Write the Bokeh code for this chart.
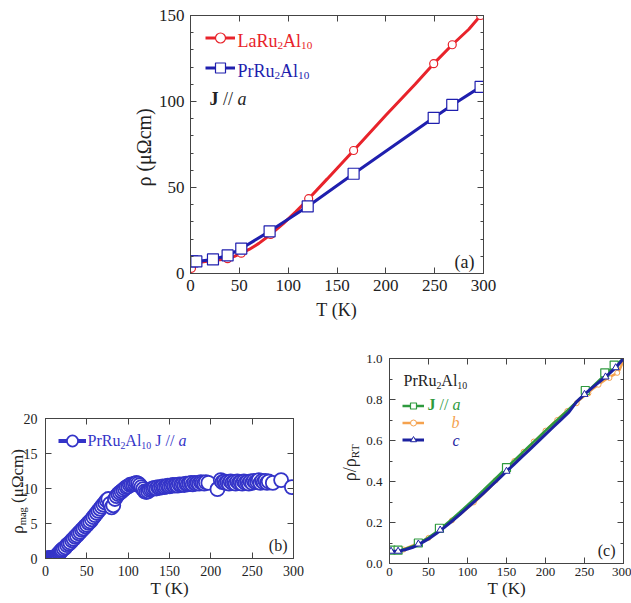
from math import pi
from bokeh.plotting import figure
from bokeh.models import (Range1d, LinearAxis, SingleIntervalTicker, Legend,
                          LegendItem, PrintfTickFormatter, CustomJSTickFormatter, Spacer)
from bokeh.core.properties import value
from bokeh.layouts import column, row
from bokeh.embed import file_html
from bokeh.resources import INLINE

FONT = "Liberation Serif"

# ---------------- panel (a) data ----------------
la_line_T = [0, 2, 5, 10, 15, 20, 25, 30, 38, 45, 52, 60, 70, 82, 95, 108, 121, 140, 167, 200, 230, 249, 268, 285, 297]
la_line_rho = [1, 3, 5.5, 6.5, 7, 7.3, 7.7, 8, 8.6, 10, 11.8, 14, 17.5, 22.7, 29, 36, 43.5, 55, 71.5, 92, 110, 122, 133, 142, 150]
la_mark_T = [1, 38, 52, 82, 121, 167, 249, 268, 297]
la_mark_rho = [3, 8.6, 11.8, 22.7, 43.5, 71.5, 122, 133, 150]
pr_T = [2, 6, 23, 38, 52, 81, 120, 167, 249, 268, 297]
pr_rho = [7, 7, 8.2, 10.5, 14.5, 24.5, 39, 58, 90.5, 98, 108.5]

# ---------------- panel (b) data ----------------
mag_T = [1, 2, 3, 4, 5, 6, 7, 8, 9, 10, 11, 12, 13, 14, 15, 16, 17, 18, 19, 20,
         22, 24, 26, 28, 30, 32, 34, 36, 38, 40, 42, 44, 46, 48, 50, 52, 54, 56, 58, 60,
         62, 64, 66, 68, 70, 72, 74, 76, 78, 80, 82, 84, 86, 88, 90, 92, 94, 96, 98, 100,
         102, 104, 106, 108, 110, 112, 114, 116, 118, 120, 122, 124, 126, 128, 130, 132, 134, 136, 138, 140,
         142, 144, 146, 148, 150, 152, 154, 156, 158, 160, 162, 164, 166, 168, 170, 172, 174, 176, 178, 180,
         182, 184, 186, 188, 190, 192, 194, 197, 208, 212, 214, 216, 218, 220, 222, 224, 226, 228, 230, 232,
         234, 236, 238, 240, 242, 244, 246, 248, 250, 252, 254, 256, 258, 260, 262, 264, 266, 268, 270, 275,
         285, 298]
mag_rho = [0, 0, 0, 0, 0, 0.05, 0.1, 0.05, 0, 0.1, 0.15, 0.2, 0.3, 0.45, 0.55, 0.7, 0.8, 0.95, 1.1, 1.25,
           1.4, 1.6, 1.9, 2.1, 2.3, 2.6, 2.8, 3.1, 3.3, 3.6, 3.8, 4.1, 4.3, 4.6, 4.8, 5.1, 5.3, 5.6, 5.9, 6.2,
           6.5, 6.8, 7.1, 7.4, 7.7, 8.0, 8.3, 8.5, 7.8, 7.3, 7.6, 8.5, 8.9, 9.2, 9.4, 9.6, 9.8, 10.0, 10.2, 10.3,
           10.5, 10.6, 10.6, 10.7, 10.8, 10.7, 10.5, 10.2, 9.9, 9.6, 9.5, 9.6, 9.8, 9.9, 10.0, 10.1, 10.0, 10.2, 10.1, 10.2,
           10.3, 10.2, 10.3, 10.4, 10.3, 10.4, 10.5, 10.4, 10.5, 10.4, 10.6, 10.5, 10.6, 10.5, 10.7, 10.6, 10.7, 10.8, 10.6, 10.8,
           10.7, 10.8, 10.7, 10.9, 10.8, 10.7, 10.9, 10.8, 9.9, 11.2, 10.9, 11.0, 10.8, 10.9, 10.7, 11.0, 10.8, 10.9, 10.7, 11.0,
           10.8, 10.9, 10.7, 11.0, 10.8, 10.9, 10.7, 11.0, 10.8, 11.1, 10.9, 11.0, 11.2, 10.8, 11.1, 10.9, 11.1, 10.8, 11.0, 10.8,
           11.2, 10.2]

# ---------------- panel (c) data ----------------
c_line_T = [1, 5, 10, 15, 20, 30, 40, 50, 60, 70, 80, 90, 100, 110, 120, 130, 140, 150, 160, 170,
            180, 190, 200, 210, 220, 230, 240, 250, 260, 270, 280, 290, 300]
a_line = [0.065, 0.065, 0.065, 0.067, 0.071, 0.084, 0.104, 0.127, 0.154, 0.184, 0.216, 0.250, 0.285, 0.320,
          0.356, 0.393, 0.430, 0.467, 0.503, 0.540, 0.576, 0.612, 0.648, 0.683, 0.718, 0.753, 0.789, 0.826,
          0.862, 0.898, 0.934, 0.967, 1.0]
c_line = [0.060, 0.060, 0.061, 0.063, 0.067, 0.079, 0.098, 0.120, 0.146, 0.175, 0.206, 0.238, 0.272, 0.306,
          0.341, 0.377, 0.413, 0.449, 0.485, 0.521, 0.557, 0.593, 0.630, 0.666, 0.702, 0.738, 0.790, 0.825,
          0.858, 0.889, 0.920, 0.955, 1.0]
b_line_T = [1, 5, 10, 15, 20, 30, 40, 50, 60, 70, 80, 90, 100, 110, 120, 130, 140, 150, 160, 170,
            180, 190, 200, 210, 220, 230, 240, 250, 260, 270, 280, 290, 295, 300]
b_line = [0.068, 0.068, 0.068, 0.068, 0.072, 0.088, 0.105, 0.125, 0.150, 0.178, 0.208, 0.238, 0.270, 0.302,
          0.338, 0.375, 0.414, 0.452, 0.492, 0.535, 0.572, 0.610, 0.648, 0.684, 0.720, 0.752, 0.786, 0.818,
          0.850, 0.878, 0.905, 0.925, 0.945, 0.99]
a_mark_T = [2, 11, 37, 64, 150, 251, 276, 288]
a_mark = [0.065, 0.065, 0.10, 0.172, 0.468, 0.844, 0.93, 0.968]
c_mark_T = [2, 11, 37, 65, 150, 250, 277, 290]
c_mark = [0.06, 0.06, 0.095, 0.163, 0.45, 0.825, 0.91, 0.955]
b_mark_T = [18, 50, 80, 108, 136, 160, 172, 185, 200, 215, 228, 240, 255, 268, 282, 292]
b_mark = [0.068, 0.125, 0.21, 0.298, 0.405, 0.50, 0.545, 0.595, 0.648, 0.70, 0.744, 0.782, 0.830, 0.872, 0.905, 0.93]

RED = "#e8232b"
BLUE_A = "#1f1fae"
BLUE_B = "#3434c8"
GREEN = "#2e9a3e"
ORANGE = "#f5a24e"
BLUE_C = "#1c22a0"
AXC = "#444444"
TXT = "#222222"

# ---------------- text helpers ----------------
W_REG = {' ': 250, '(': 333, ')': 333, '/': 278, '.': 250, 'A': 722, 'J': 389, 'K': 722, 'L': 611,
         'P': 556, 'R': 667, 'T': 611, 'a': 444, 'b': 500, 'c': 444, 'g': 500, 'l': 278, 'm': 778,
         'r': 333, 'u': 500, '\u03c1': 500, '\u03bc': 500, '\u03a9': 768}
W_BOLD = {'J': 500}
W_ITAL = {'a': 500, 'b': 500, 'c': 444}


def tw(s, size, style):
    tot = 0
    for ch in s:
        if style == 'bold' and ch in W_BOLD:
            w = W_BOLD[ch]
        elif style == 'italic' and ch in W_ITAL:
            w = W_ITAL[ch]
        else:
            w = W_REG.get(ch, 500)
        tot += w
    return tot * size / 1000.0


def rich(p, g, X, Y, parts, size, color, angle=0.0, align='left'):
    """Draw a run of text pieces (with subscripts); X, Y = page pixel position of the text's middle line."""
    FL, FB, fw, fh, x0, x1, y0, y1 = g
    widths = []
    for s, st, sub in parts:
        fs = size * 0.62 if sub else size
        widths.append(tw(s, fs, st))
    total = sum(widths)
    pos = {'left': 0.0, 'center': -total / 2.0, 'right': -total}[align]
    for (s, st, sub), w in zip(parts, widths):
        fs = size * 0.62 if sub else size
        shift = size * 0.3 if sub else 0.0
        lead = (len(s) - len(s.lstrip(' '))) * 250 * fs / 1000.0
        ppos = pos + lead
        if angle == 0:
            px, py = X + ppos, Y + shift
        else:
            px, py = X + shift, Y - ppos
        xd = x0 + (px - FL) * (x1 - x0) / fw
        yd = y0 + (FB - py) * (y1 - y0) / fh
        p.text(x=[xd], y=[yd], text=[s.strip(' ')], text_font=value(FONT), text_font_size=f"{fs:.1f}px",
               text_font_style=st, text_color=color, angle=angle, text_align="left",
               text_baseline="middle", level="overlay")
        pos += w


def make_fig(fw, fh, bl, br, bt, bb, xr, yr):
    p = figure(frame_width=fw, frame_height=fh, min_border_left=bl, min_border_right=br,
               min_border_top=bt, min_border_bottom=bb, x_range=Range1d(*xr), y_range=Range1d(*yr),
               x_axis_type=None, y_axis_type=None, output_backend="svg", toolbar_location=None)
    p.outline_line_color = None
    p.background_fill_color = "white"
    p.border_fill_color = "white"
    try:
        p.frame_align = False
    except Exception:
        pass
    return p


def add_axes(p, xint, xminor, yint, yminor, fs, xstand, ystand, yfmt=None):
    for loc in ("below", "above", "left", "right"):
        if loc in ("below", "above"):
            ax = LinearAxis(ticker=SingleIntervalTicker(interval=xint, num_minor_ticks=xminor))
        else:
            ax = LinearAxis(ticker=SingleIntervalTicker(interval=yint, num_minor_ticks=yminor))
            if yfmt:
                ax.formatter = PrintfTickFormatter(format=yfmt)
        ax.axis_line_color = AXC
        ax.major_tick_line_color = AXC
        ax.minor_tick_line_color = AXC
        ax.major_tick_in = 6
        ax.major_tick_out = 0
        ax.minor_tick_in = 3
        ax.minor_tick_out = 0
        ax.major_label_text_font = FONT
        ax.major_label_text_color = TXT
        ax.major_label_text_font_size = fs
        if loc in ("below", "left"):
            ax.major_label_standoff = xstand if loc == "below" else ystand
        else:
            ax.formatter = CustomJSTickFormatter(code="return ''")
            ax.major_label_standoff = 0
        p.add_layout(ax, loc)


def legend(items, loc, gw, gh, sp):
    return Legend(items=[LegendItem(label=" ", renderers=r) for r in items], location=loc,
                  glyph_width=gw, glyph_height=gh, spacing=sp, padding=0, margin=0,
                  border_line_alpha=0, background_fill_alpha=0, label_text_font_size="1px",
                  label_standoff=0, label_width=0, label_height=0)


SUBF = [("PrRu", "normal", False), ("2", "normal", True), ("Al", "normal", False), ("10", "normal", True)]

# ================= panel (a) =================
ga = (190, 273, 293, 258, 0, 300, 0, 150)
pa = make_fig(293, 258, 70, 27, 15, 47, (0, 300), (0, 150))
add_axes(pa, 50, 1, 50, 5, "17px", 6, 6)
r1 = pa.line(la_line_T, la_line_rho, line_color=RED, line_width=3)
r2 = pa.scatter(la_mark_T, la_mark_rho, marker="circle", size=8, line_color=RED, fill_color="white", line_width=1.2)
r3 = pa.line(pr_T, pr_rho, line_color=BLUE_A, line_width=3)
r4 = pa.scatter(pr_T, pr_rho, marker="square", size=11, line_color=BLUE_A, fill_color="white", line_width=1.2)
pa.add_layout(legend([[r1, r2], [r3, r4]], (15, 273 - 79.5), 30, 25, 5))
rich(pa, ga, 237, 40, [("LaRu", "normal", False), ("2", "normal", True), ("Al", "normal", False), ("10", "normal", True)], 18, RED)
rich(pa, ga, 237, 70, SUBF, 18, BLUE_A)
rich(pa, ga, 209, 98, [("J", "bold", False), (" // ", "normal", False), ("a", "italic", False)], 18, TXT)
rich(pa, ga, 474, 261, [("(a)", "normal", False)], 18, TXT, align='right')
rich(pa, ga, 143, 147, [("\u03c1", "normal", False), (" (\u03bc\u03a9cm)", "normal", False)], 20, TXT, angle=pi / 2, align='center')
rich(pa, ga, 336, 309, [("T", "normal", False), (" (K)", "normal", False)], 18, TXT, align='center')

# ================= panel (b) =================
gb = (45, 558, 248, 140, 0, 300, 0, 20)
pb = make_fig(248, 140, 45, 17, 98, 45, (0, 300), (0, 20))
add_axes(pb, 50, 1, 5, 1, "14px", 7, 8)
rb2 = pb.scatter(mag_T, mag_rho, marker="circle", size=14, line_color=BLUE_B, fill_color="white", line_width=1.8)
rb1 = pb.line(mag_T[:1], mag_rho[:1], line_color=BLUE_B, line_width=4)
pb.add_layout(legend([[rb1, rb2]], (13, 558 - 457.5), 28, 35, 0))
rich(pb, gb, 87, 440, SUBF + [(" J // ", "normal", False), ("a", "italic", False)], 16, BLUE_B)
rich(pb, gb, 287, 545, [("(b)", "normal", False)], 16, TXT, align='right')
rich(pb, gb, 17, 491, [("\u03c1", "normal", False), ("mag", "normal", True), (" (\u03bc\u03a9cm)", "normal", False)], 17, TXT, angle=pi / 2, align='center')
rich(pb, gb, 169, 588, [("T", "normal", False), (" (K)", "normal", False)], 17, TXT, align='center')

# ================= panel (c) =================
gc = (389, 563, 234, 205, 0, 300, 0, 1)
pc = make_fig(234, 205, 79, 8, 38, 40, (0, 300), (0, 1))
add_axes(pc, 50, 1, 0.2, 2, "13px", 4, 7, yfmt="%.1f")
rc3 = pc.line(b_line_T, b_line, line_color=ORANGE, line_width=2.5)
rc4 = pc.scatter(b_mark_T, b_mark, marker="circle", size=5, line_color=ORANGE, fill_color="white", line_width=1)
rc1 = pc.line(c_line_T, a_line, line_color=GREEN, line_width=2.5)
rc2 = pc.scatter(a_mark_T, a_mark, marker="square", size=8, line_color=GREEN, fill_color="white", line_width=1.2)
rc5 = pc.line(c_line_T, c_line, line_color=BLUE_C, line_width=3)
rc6 = pc.scatter(c_mark_T, c_mark, marker="triangle", size=7, line_color=BLUE_C, fill_color="white", line_width=1)
pc.add_layout(legend([[rc1, rc2], [rc3, rc4], [rc5, rc6]], (13, 563 - 446.5), 22, 15, 2))
rich(pc, gc, 403, 380, [("PrRu", "normal", False), ("2", "normal", True), ("Al", "normal", False), ("10", "normal", True)], 16, TXT)
rich(pc, gc, 427, 404, [("J", "bold", False), (" // ", "normal", False), ("a", "italic", False)], 16, GREEN)
rich(pc, gc, 451, 422, [("b", "italic", False)], 16, ORANGE)
rich(pc, gc, 452, 440, [("c", "italic", False)], 16, BLUE_C)
rich(pc, gc, 615, 550, [("(c)", "normal", False)], 16, TXT, align='right')
rich(pc, gc, 349, 462, [("\u03c1/\u03c1", "normal", False), ("RT", "normal", True)], 18, TXT, angle=pi / 2, align='center')
rich(pc, gc, 506, 588, [("T", "normal", False), (" (K)", "normal", False)], 17, TXT, align='center')

layout = column(row(Spacer(width=120, height=320), pa), row(pb, pc))
open("out.html", "w").write(file_html(layout, INLINE))
